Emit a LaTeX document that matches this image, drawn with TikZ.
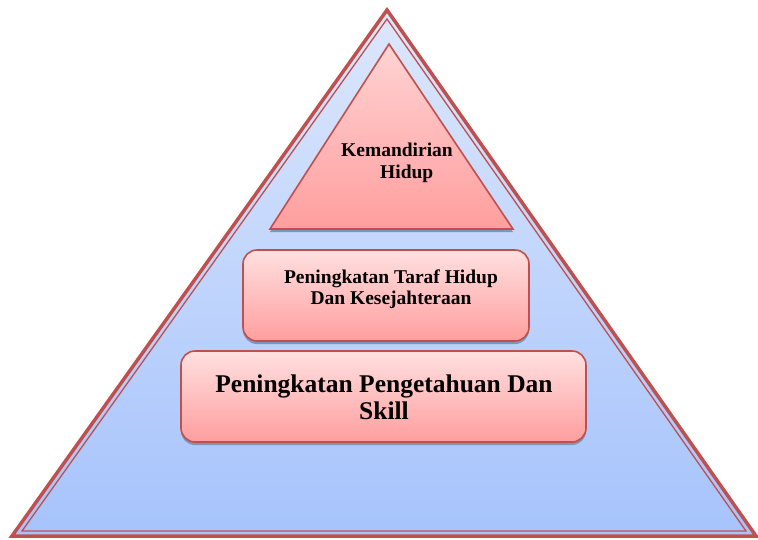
\documentclass[tikz,border=0pt]{standalone}
\usepackage{fontspec}
\setmainfont{Liberation Serif}
\definecolor{bord}{HTML}{C0504D}
\definecolor{bluetop}{HTML}{DCE7FC}
\definecolor{bluebot}{HTML}{A6C3FC}
\definecolor{pinktop}{HTML}{FFE0E0}
\definecolor{pinkbot}{HTML}{FF9E9E}
\definecolor{shad}{HTML}{8093B8}
\tikzset{
  pinkbox/.style={draw=bord, line width=1.6pt, rounded corners=14pt, top color=pinktop, bottom color=pinkbot},
  shadowbox/.style={fill=shad, rounded corners=14pt},
  lbl/.style={font=\bfseries, text=black, align=center, inner sep=0pt}
}
\begin{document}
\begin{tikzpicture}[x=1pt,y=-1pt]
\useasboundingbox (0,0) rectangle (758,539);
% big triangle
\coordinate (A) at (387,10);
\coordinate (B) at (12,536);
\coordinate (C) at (756,536);
\path[top color=bluetop, bottom color=bluebot] (A) -- (B) -- (C) -- cycle;
\draw[bord, line width=3.5pt, line join=miter] (A) -- (B) -- (C) -- cycle;
\coordinate (A2) at (387,19);
\coordinate (B2) at (22,531);
\coordinate (C2) at (746,531);
\draw[bord, line width=1.3pt, line join=miter] (A2) -- (B2) -- (C2) -- cycle;
% top triangle
\fill[shad] (389,47) -- (270,232) -- (513,232) -- cycle;
\draw[bord, line width=1.6pt, top color=pinktop!80!pinkbot, bottom color=pinkbot] (389,44) -- (270,229) -- (513,229) -- cycle;
\node[lbl, font=\bfseries\fontsize{19.5}{22}\selectfont, align=left] (t1) at (397,163) {Kemandirian\\\hspace*{39pt}Hidup};
% middle box
\fill[shadowbox] (243,253) rectangle (529,344);
\draw[pinkbox] (243,250) rectangle (529,341);
\node[lbl, font=\bfseries\fontsize{19.5}{21}\selectfont] (t2) at (391,289) {Peningkatan Taraf Hidup\\Dan Kesejahteraan};
% bottom box
\fill[shadowbox] (181,354) rectangle (586,445);
\draw[pinkbox] (181,351) rectangle (586,442);
\node[lbl, font=\bfseries\fontsize{25.5}{27}\selectfont] (t3) at (384,397) {Peningkatan Pengetahuan Dan\\Skill};
\end{tikzpicture}
\end{document}
